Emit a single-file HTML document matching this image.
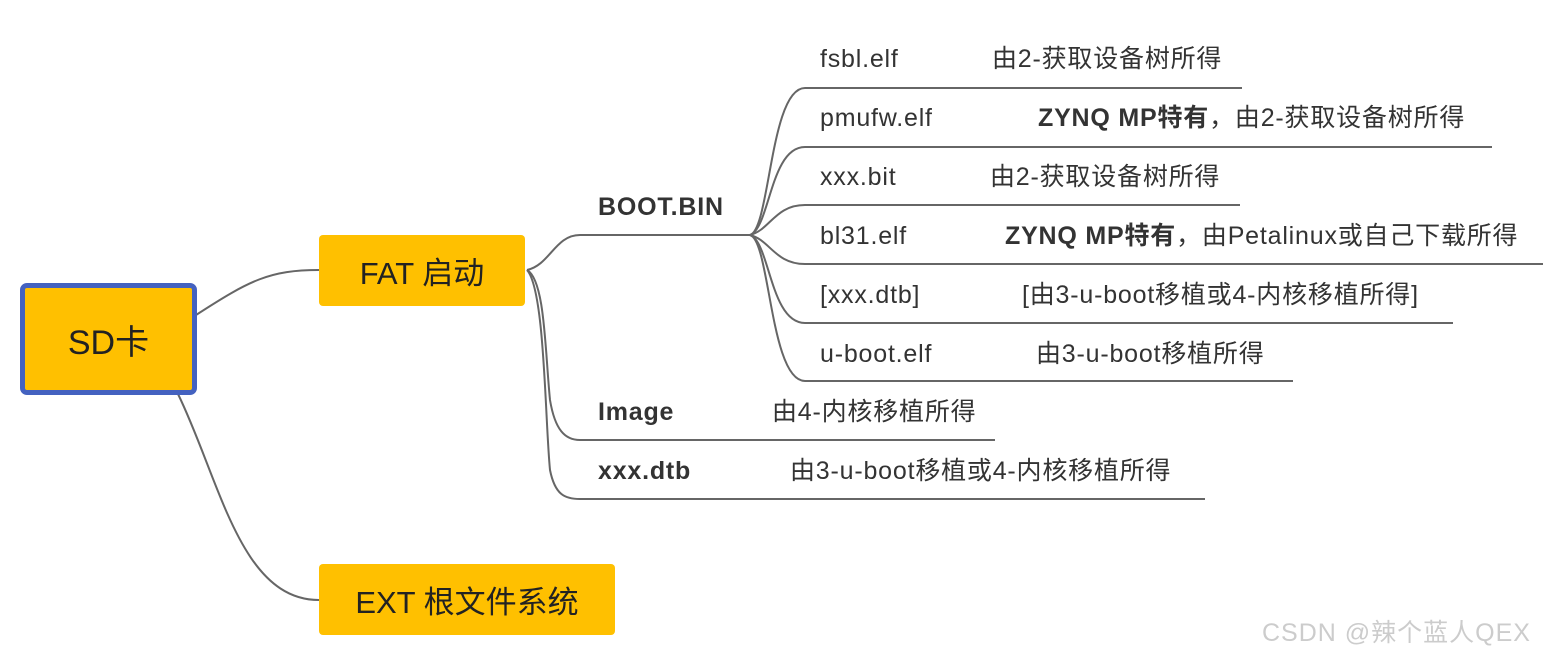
<!DOCTYPE html>
<html><head><meta charset="utf-8"><style>
body{margin:0;background:#fff;width:1554px;height:662px;overflow:hidden;position:relative;font-family:"Liberation Sans","Noto Sans CJK SC",sans-serif;}
.t{position:absolute;font-size:25px;letter-spacing:0.8px;color:#333;white-space:nowrap;line-height:1;}
.b{font-weight:bold;}
.box{position:absolute;background:#FFC000;display:flex;align-items:center;justify-content:center;font-size:31px;color:#222;box-sizing:border-box;}
</style></head><body>
<svg width="1554" height="662" style="position:absolute;left:0;top:0" fill="none" stroke="#666" stroke-width="2">
<path d="M196 315 C250 280 270 270 319 270"/>
<path d="M178 394 C220 480 240 600 319 600"/>
<path d="M527 270 C550 265 555 235 580 235 L750 235"/>
<path d="M527 270 C545 280 545 350 550 400 C555 430 565 440 580 440 L995 440"/>
<path d="M527 270 C545 290 545 420 550 470 C555 495 565 499 580 499 L1205 499"/>
<path d="M750 235 C770 230 770 88 805 88 L1242 88"/>
<path d="M750 235 C770 228 770 147 805 147 L1492 147"/>
<path d="M750 235 C770 230 775 205 805 205 L1240 205"/>
<path d="M750 235 C770 240 775 264 805 264 L1543 264"/>
<path d="M750 235 C770 242 770 323 805 323 L1453 323"/>
<path d="M750 235 C770 240 770 381 805 381 L1293 381"/>
</svg>
<div class="box" style="left:20px;top:283px;width:177px;height:112px;border:5px solid #4462C0;border-radius:7px;font-size:34px">SD卡</div>
<div class="box" style="left:319px;top:235px;width:206px;height:71px;border-radius:4px">FAT 启动</div>
<div class="box" style="left:319px;top:564px;width:296px;height:71px;border-radius:4px">EXT 根文件系统</div>
<div class="t b" style="left:598px;top:195px">BOOT.BIN</div>
<div class="t b" style="left:598px;top:400px">Image</div>
<div class="t" style="left:772px;top:400px">由4-内核移植所得</div>
<div class="t b" style="left:598px;top:459px">xxx.dtb</div>
<div class="t" style="left:790px;top:459px">由3-u-boot移植或4-内核移植所得</div>
<div class="t" style="left:820px;top:47px">fsbl.elf</div>
<div class="t" style="left:992px;top:47px">由2-获取设备树所得</div>
<div class="t" style="left:820px;top:106px">pmufw.elf</div>
<div class="t" style="left:1038px;top:106px"><b>ZYNQ MP特有</b>，由2-获取设备树所得</div>
<div class="t" style="left:820px;top:165px">xxx.bit</div>
<div class="t" style="left:990px;top:165px">由2-获取设备树所得</div>
<div class="t" style="left:820px;top:224px">bl31.elf</div>
<div class="t" style="left:1005px;top:224px"><b>ZYNQ MP特有</b>，由Petalinux或自己下载所得</div>
<div class="t" style="left:820px;top:283px">[xxx.dtb]</div>
<div class="t" style="left:1022px;top:283px">[由3-u-boot移植或4-内核移植所得]</div>
<div class="t" style="left:820px;top:342px">u-boot.elf</div>
<div class="t" style="left:1036px;top:342px">由3-u-boot移植所得</div>
<div class="t" style="left:1262px;top:621px;color:#ccc;font-size:25px;letter-spacing:1px">CSDN @辣个蓝人QEX</div>
</body></html>
